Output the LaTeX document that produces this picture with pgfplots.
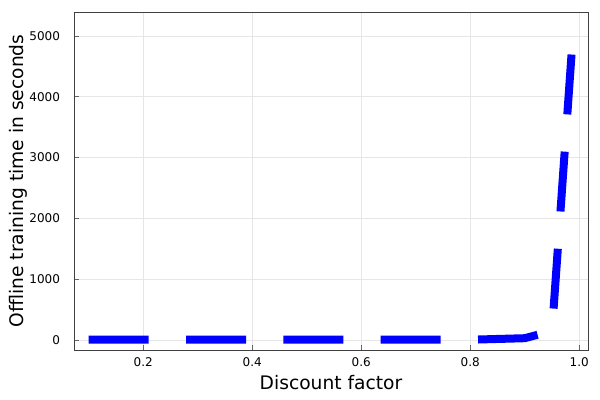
\documentclass[border=0pt]{standalone}
\usepackage{fontspec}
\setmainfont{DejaVu Sans}
\usepackage{pgfplots}
\pgfplotsset{compat=1.18}
\definecolor{gridgray}{HTML}{E6E6E6}
\definecolor{framegray}{HTML}{404040}

\begin{document}
\begin{tikzpicture}
\begin{axis}[
  scale only axis,
  width=385.5pt, height=253.5pt,
  xmin=0.073, xmax=1.016,
  ymin=-164, ymax=5395,
  xtick={0.2,0.4,0.6,0.8,1.0},
  ytick={0,1000,2000,3000,4000,5000},
  xticklabel style={/pgf/number format/.cd, fixed, fixed zerofill, precision=1},
  yticklabel style={/pgf/number format/.cd, set thousands separator={}},
  /pgf/number format/assume math mode=true,
  tick label style={font=\fontsize{9}{10}\selectfont, color=black},
  xtick pos=bottom, ytick pos=left,
  tick align=inside,
  major tick length=3.5pt,
  tick style={black!60, line width=0.5pt},
  grid=major,
  grid style={gridgray, line width=0.6pt},
  axis line style={framegray, line width=0.7pt},
  xlabel={Discount factor},
  ylabel={Offline training time in seconds},
  label style={font=\fontsize{14}{16}\selectfont},
  xlabel style={at={(axis description cs:0.5,-0.0976)}, anchor=center},
  ylabel style={at={(axis description cs:-0.109,0.5)}, anchor=center},
  xticklabel shift=2pt,
  yticklabel shift=7pt,
  clip=true,
]
\addplot[blue, line width=6pt, line cap=butt, line join=miter,
  dash pattern=on 45pt off 28pt]
  coordinates {
    (0.1,5) (0.2,5) (0.3,5) (0.4,5) (0.5,5) (0.6,5) (0.7,5) (0.8,5)
    (0.9,30) (0.95,150) (0.99,5230)
  };
\end{axis}
\path[use as bounding box] (-55.5pt,-37.5pt) rectangle (394.5pt,262.5pt);
\end{tikzpicture}
\end{document}
